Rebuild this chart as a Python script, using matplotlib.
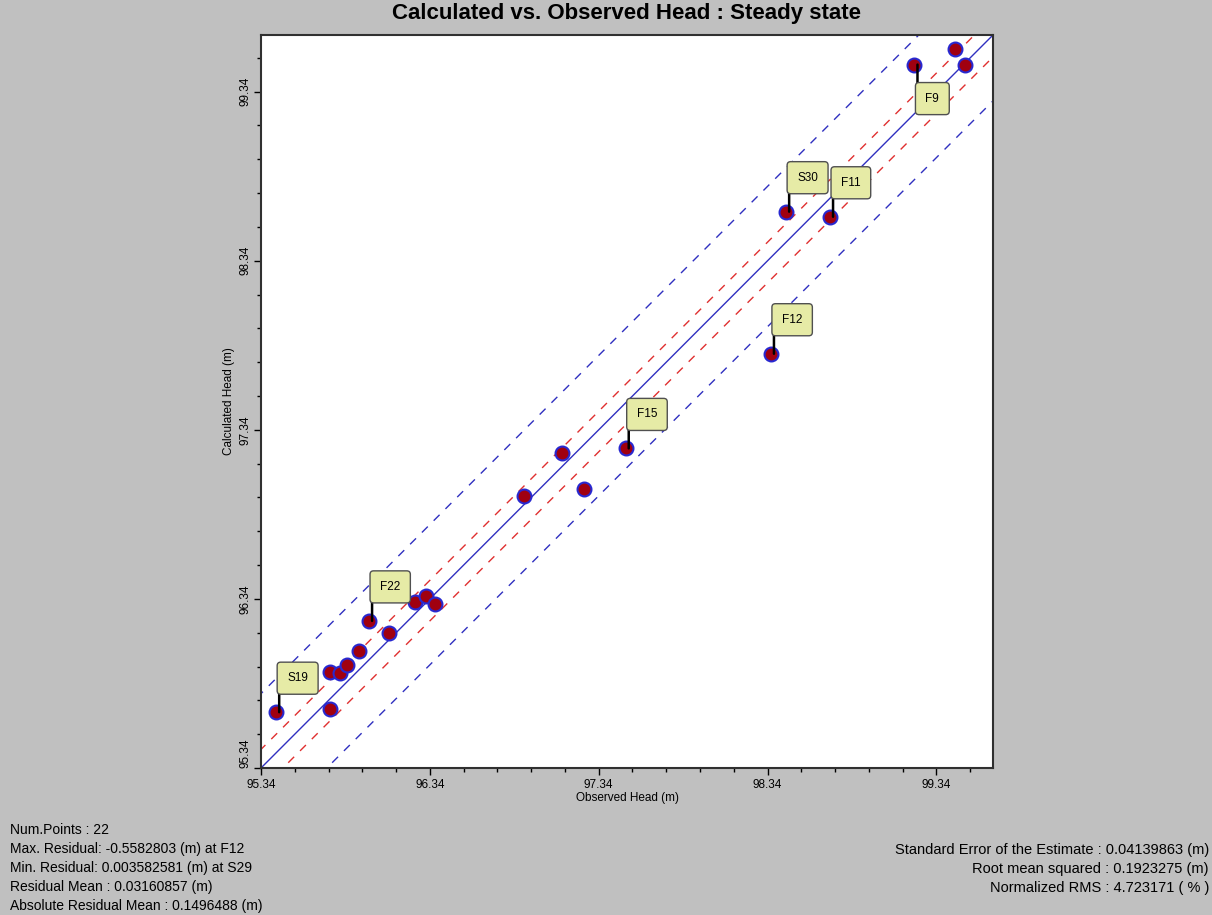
import matplotlib
matplotlib.use("Agg")
import matplotlib.pyplot as plt
from matplotlib.ticker import FixedLocator
from matplotlib.transforms import offset_copy

plt.rcParams["font.family"] = ["Liberation Sans", "DejaVu Sans"]

# observed / calculated heads (m)
observed = [95.43, 95.75, 95.75, 95.81, 95.85, 95.92, 95.98, 96.10, 96.25, 96.32, 96.37,
            96.90, 97.12, 97.25, 97.50, 98.36, 98.45, 98.71, 99.21, 99.45, 99.51]
calculated = [95.67, 95.69, 95.91, 95.90, 95.95, 96.03, 96.21, 96.14, 96.32, 96.36, 96.31,
              96.95, 97.20, 96.99, 97.23, 97.79, 98.63, 98.60, 99.50, 99.59, 99.50]
names = ["S19", "", "", "", "", "", "F22", "", "", "", "",
         "", "", "", "F15", "F12", "S30", "F11", "F9", "", ""]
labels_below = ["F9"]

ticks = [95.34, 96.34, 97.34, 98.34, 99.34]
lo, hi = 95.34, 99.675
# offsets of the dashed lines from the 1:1 line
red_offsets = [0.11, -0.13]
blue_offsets = [0.44, -0.39]

stats_left = ["Num.Points : 22",
              "Max. Residual: -0.5582803 (m) at F12",
              "Min. Residual: 0.003582581 (m) at S29",
              "Residual Mean : 0.03160857 (m)",
              "Absolute Residual Mean : 0.1496488 (m)"]
stats_right = ["Standard Error of the Estimate : 0.04139863 (m)",
               "Root mean squared : 0.1923275 (m)",
               "Normalized RMS : 4.723171 ( % )"]

W, H = 1212, 915
fig = plt.figure(figsize=(W / 100, H / 100), dpi=100, facecolor="#c0c0c0")
ax = fig.add_axes([261 / W, 1 - 768 / H, 732 / W, 733 / H])
ax.set_facecolor("white")

line = [lo - 1, hi + 1]
ax.plot(line, line, color="#3030c0", lw=1)
for d in red_offsets:
    ax.plot(line, [v + d for v in line], color="#e03030", lw=1, dashes=(6, 6))
for d in blue_offsets:
    ax.plot(line, [v + d for v in line], color="#3030c0", lw=1, dashes=(6, 6))

ax.plot(observed, calculated, "o", ms=10, mfc="#a00010", mec="#2828d0", mew=1.5, zorder=5)

# leader lines start a few pixels right of the point centre and go straight up/down
lead = offset_copy(ax.transData, fig=fig, x=3, y=0, units="dots")
for x, y, n in zip(observed, calculated, names):
    if not n:
        continue
    sign = -1 if n in labels_below else 1
    ax.annotate("", (x, y), xycoords=lead, xytext=(0, 19 * sign), textcoords="offset pixels",
                arrowprops=dict(arrowstyle="-", color="black", lw=1.8, shrinkA=0, shrinkB=0),
                zorder=6)
    ax.annotate(n, (x, y), xytext=(11, 28 * sign), textcoords="offset pixels", ha="left",
                va="top" if sign < 0 else "bottom", fontsize=8.5, zorder=7,
                bbox=dict(boxstyle="round,pad=0.85,rounding_size=0.3", fc="#e6eba6", ec="#505050", lw=1))

ax.set_xlim(lo, hi)
ax.set_ylim(lo, hi)
ax.xaxis.set_major_locator(FixedLocator(ticks))
ax.yaxis.set_major_locator(FixedLocator(ticks))
minor = [round(lo + 0.2 * i, 2) for i in range(22)]
ax.xaxis.set_minor_locator(FixedLocator(minor))
ax.yaxis.set_minor_locator(FixedLocator(minor))
ax.set_xticklabels([f"{t:.2f}" for t in ticks], fontsize=8.5)
ax.set_yticklabels([f"{t:.2f}" for t in ticks], fontsize=8.5, rotation=90, va="center")
ax.get_yticklabels()[0].set_va("bottom")
ax.tick_params(which="major", length=5, width=1, direction="out", pad=3)
ax.tick_params(axis="y", which="major", pad=2)
ax.tick_params(which="minor", length=3, width=1, direction="out")
for s in ax.spines.values():
    s.set_color("#303030")
    s.set_linewidth(1.5)

ax.set_xlabel("Observed Head (m)", fontsize=8.5, labelpad=1)
ax.set_ylabel("Calculated Head (m)", fontsize=8.5)
ax.yaxis.set_label_coords(-0.036, 0.5)

fig.text(627 / W, 1 - 13 / H, "Calculated vs. Observed Head : Steady state",
         ha="center", va="center", fontsize=16, fontweight="bold")

for i, s in enumerate(stats_left):
    fig.text(10 / W, 1 - (830 + 19 * i) / H, s, ha="left", va="center", fontsize=10)
for i, s in enumerate(stats_right):
    fig.text(1209 / W, 1 - (850 + 19 * i) / H, s, ha="right", va="center", fontsize=10.5)

fig.savefig("out.png", dpi=100, facecolor=fig.get_facecolor())
